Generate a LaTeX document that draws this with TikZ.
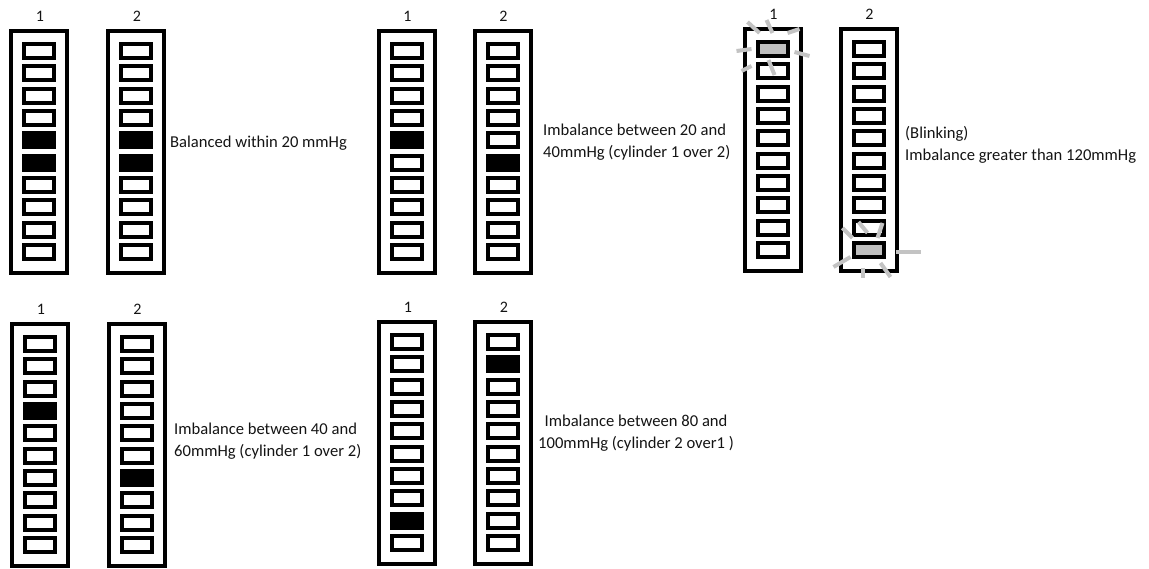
\documentclass[tikz,border=0pt]{standalone}
\usepackage{fontspec}
\setmainfont{Carlito}
\begin{document}
\begin{tikzpicture}[x=1pt,y=-1pt,
  frame/.style={draw=black,line width=4pt,minimum width=56pt,minimum height=242pt,inner sep=0pt,outer sep=0pt},
  ledo/.style={draw=black,fill=white,line width=4pt,minimum width=30pt,minimum height=14pt,inner sep=0pt,outer sep=0pt},
  ledb/.style={ledo,fill=black},
  ledg/.style={ledo,fill=ledgray},
  lab/.style={font=\fontsize{16}{18}\selectfont,inner sep=0pt,text=txtcol},
  txt/.style={font=\fontsize{16.6}{22}\selectfont,inner sep=0pt,align=left,anchor=west,text=txtcol},
  ray/.style={draw=raygray,line width=4pt}]
\definecolor{ledgray}{HTML}{BFBFBF}
\definecolor{raygray}{HTML}{C3C3C3}
\definecolor{txtcol}{HTML}{141414}
\useasboundingbox (0,0) rectangle (1149,568);
\newcommand\ledcolumn[5]{%
  \node[frame] (#1) at (#2,#3+123) {};
  \node[lab] (#1-lab) at (#2+1,#3-13) {#4};
  \foreach \st [count=\k] in {#5} {
    \node[led\st] (#1-\k) at (#2,{#3+22+(\k-1)*22.33}) {};
  }%
}
% Panel A
\ledcolumn{A1}{39}{29}{1}{o,o,o,o,b,b,o,o,o,o}
\ledcolumn{A2}{136}{29}{2}{o,o,o,o,b,b,o,o,o,o}
\node[txt] (Atxt) at (170,143) {Balanced within 20 mmHg};
% Panel B
\ledcolumn{B1}{406.5}{29}{1}{o,o,o,o,b,o,o,o,o,o}
\ledcolumn{B2}{502.5}{29}{2}{o,o,o,o,o,b,o,o,o,o}
\node[txt] (Btxt) at (543,142) {Imbalance between 20 and\\40mmHg (cylinder 1 over 2)};
% Panel C
\ledcolumn{C1}{772.5}{27}{1}{g,o,o,o,o,o,o,o,o,o}
\ledcolumn{C2}{868.5}{27}{2}{o,o,o,o,o,o,o,o,o,g}
\node[txt] (Ctxt) at (905,145) {(Blinking)\\Imbalance greater than 120mmHg};
% rays C1
\draw[ray] ([shift={(-25,-27)}]C1-1.center) -- ([shift={(-13,-16)}]C1-1.center);
\draw[ray] ([shift={(-6,-29)}]C1-1.center) -- ([shift={(0,-16)}]C1-1.center);
\draw[ray] ([shift={(15,-16)}]C1-1.center) -- ([shift={(27,-20)}]C1-1.center);
\draw[ray] ([shift={(-36,2)}]C1-1.center) -- ([shift={(-21,0)}]C1-1.center);
\draw[ray] ([shift={(22,3)}]C1-1.center) -- ([shift={(37,7)}]C1-1.center);
\draw[ray] ([shift={(-31,22)}]C1-1.center) -- ([shift={(-21,17)}]C1-1.center);
\draw[ray] ([shift={(-4,11)}]C1-1.center) -- ([shift={(2,26)}]C1-1.center);
% rays C2
\draw[ray] ([shift={(-26,-22)}]C2-10.center) -- ([shift={(-16,-12)}]C2-10.center);
\draw[ray] ([shift={(-10,-28)}]C2-10.center) -- ([shift={(-1,-17)}]C2-10.center);
\draw[ray] ([shift={(14,-27)}]C2-10.center) -- ([shift={(9,-12)}]C2-10.center);
\draw[ray] ([shift={(27,2)}]C2-10.center) -- ([shift={(52,2)}]C2-10.center);
\draw[ray] ([shift={(-35,17)}]C2-10.center) -- ([shift={(-18,7)}]C2-10.center);
\draw[ray] ([shift={(-6,18)}]C2-10.center) -- ([shift={(-6,28)}]C2-10.center);
\draw[ray] ([shift={(12,13)}]C2-10.center) -- ([shift={(22,27)}]C2-10.center);
% Panel D
\ledcolumn{D1}{40}{322}{1}{o,o,o,b,o,o,o,o,o,o}
\ledcolumn{D2}{136.5}{322}{2}{o,o,o,o,o,o,b,o,o,o}
\node[txt] (Dtxt) at (174,441) {Imbalance between 40 and\\60mmHg (cylinder 1 over 2)};
% Panel E
\ledcolumn{E1}{407}{320}{1}{o,o,o,o,o,o,o,o,b,o}
\ledcolumn{E2}{503}{320}{2}{o,b,o,o,o,o,o,o,o,o}
\node[txt,align=center,anchor=center] (Etxt) at (636,433) {Imbalance between 80 and\\100mmHg (cylinder 2 over1 )};
\end{tikzpicture}
\end{document}
